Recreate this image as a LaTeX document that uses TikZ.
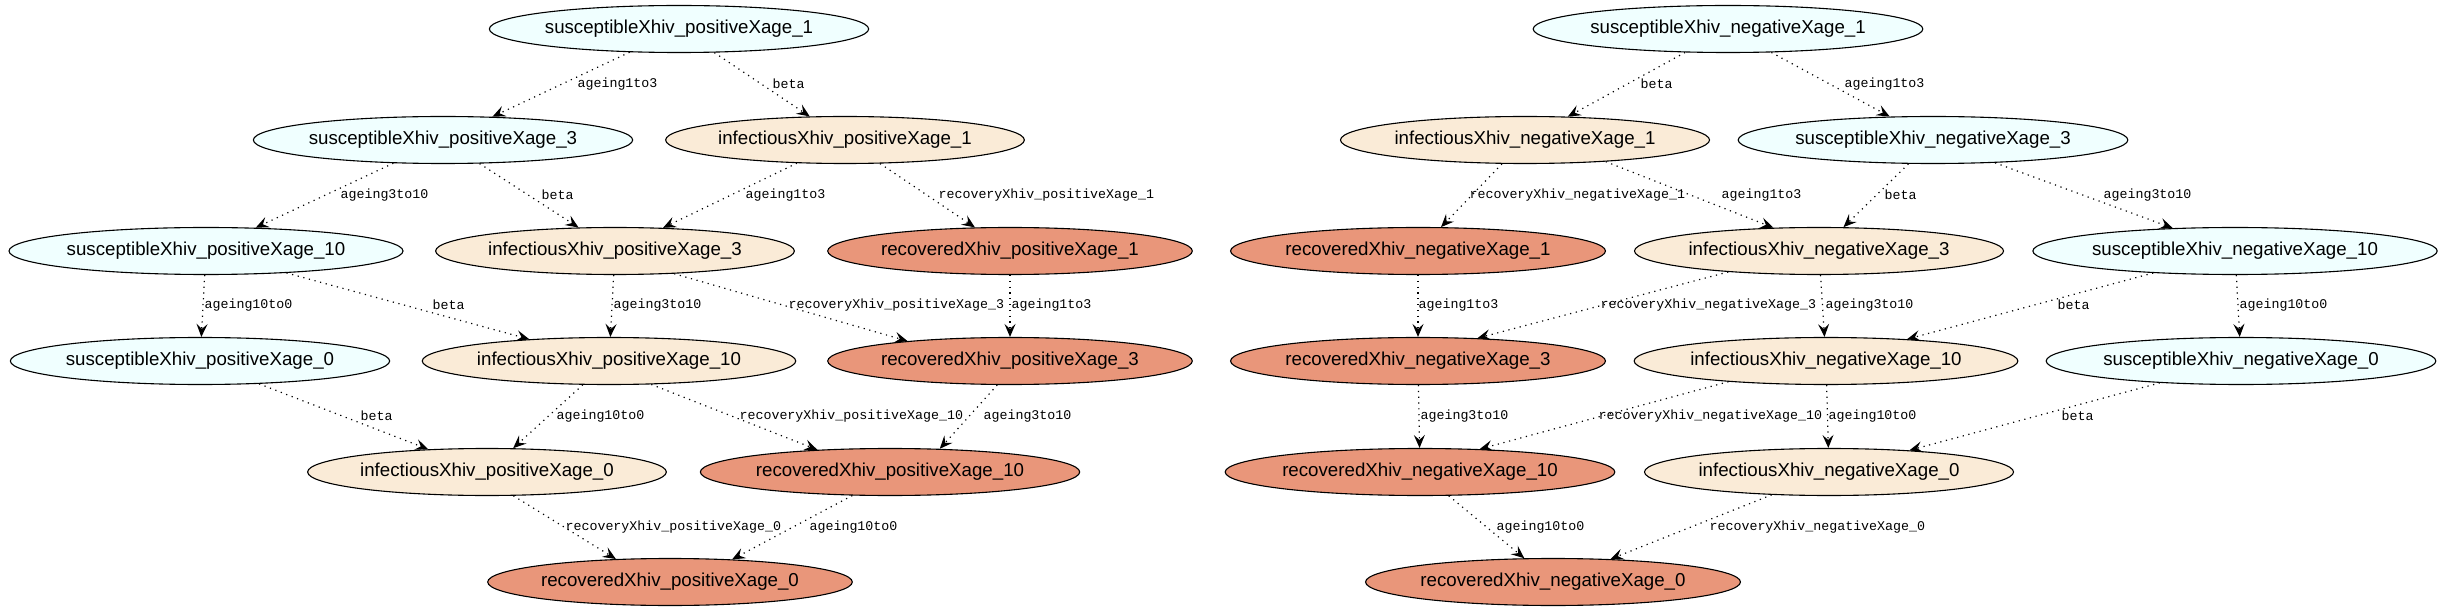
\documentclass[tikz,border=0pt]{standalone}
\usepackage{fontspec}
\setmainfont{Liberation Sans}
\newfontfamily\edgefont{Liberation Mono}
\usepackage{tikz}
\usetikzlibrary{shapes.geometric, arrows.meta}
\definecolor{susfill}{HTML}{F0FFFF}
\definecolor{inffill}{HTML}{FAEBD7}
\definecolor{recfill}{HTML}{E9967A}

\begin{document}
\begin{tikzpicture}[x=1pt, y=-1pt,
  compart/.style={ellipse, draw=black, line width=1.1pt, inner xsep=0pt, inner ysep=2pt, minimum height=47pt, font=\fontsize{18.7}{22}\selectfont},
  susbox/.style={compart, fill=susfill},
  infbox/.style={compart, fill=inffill},
  recbox/.style={compart, fill=recfill},
  flow/.style={-{Stealth[length=13pt, width=11pt, inset=5pt]}, line width=1.2pt, dash pattern=on 1.2pt off 4.6pt},
  elabel/.style={anchor=west, inner sep=0pt, font=\edgefont\fontsize{13.3}{15}\selectfont}
]
\useasboundingbox (0,0) rectangle (2447,612);

% HIV positive compartments
\node[susbox] (spos1) at (679,29) {susceptibleXhiv\_positiveXage\_1};
\node[susbox] (spos3) at (443,140) {susceptibleXhiv\_positiveXage\_3};
\node[infbox] (ipos1) at (845,140) {infectiousXhiv\_positiveXage\_1};
\node[susbox] (spos10) at (206,251) {susceptibleXhiv\_positiveXage\_10};
\node[infbox] (ipos3) at (615,251) {infectiousXhiv\_positiveXage\_3};
\node[recbox] (rpos1) at (1010,251) {recoveredXhiv\_positiveXage\_1};
\node[susbox] (spos0) at (200,361) {susceptibleXhiv\_positiveXage\_0};
\node[infbox] (ipos10) at (609,361) {infectiousXhiv\_positiveXage\_10};
\node[recbox] (rpos3) at (1010,361) {recoveredXhiv\_positiveXage\_3};
\node[infbox] (ipos0) at (487,472) {infectiousXhiv\_positiveXage\_0};
\node[recbox] (rpos10) at (890,472) {recoveredXhiv\_positiveXage\_10};
\node[recbox] (rpos0) at (670,582) {recoveredXhiv\_positiveXage\_0};

% HIV negative compartments
\node[susbox] (sneg1) at (1728,29) {susceptibleXhiv\_negativeXage\_1};
\node[infbox] (ineg1) at (1525,140) {infectiousXhiv\_negativeXage\_1};
\node[susbox] (sneg3) at (1933,140) {susceptibleXhiv\_negativeXage\_3};
\node[recbox] (rneg1) at (1418,251) {recoveredXhiv\_negativeXage\_1};
\node[infbox] (ineg3) at (1819,251) {infectiousXhiv\_negativeXage\_3};
\node[susbox] (sneg10) at (2235,251) {susceptibleXhiv\_negativeXage\_10};
\node[recbox] (rneg3) at (1418,361) {recoveredXhiv\_negativeXage\_3};
\node[infbox] (ineg10) at (1826,361) {infectiousXhiv\_negativeXage\_10};
\node[susbox] (sneg0) at (2241,361) {susceptibleXhiv\_negativeXage\_0};
\node[recbox] (rneg10) at (1420,472) {recoveredXhiv\_negativeXage\_10};
\node[infbox] (ineg0) at (1829,472) {infectiousXhiv\_negativeXage\_0};
\node[recbox] (rneg0) at (1553,582) {recoveredXhiv\_negativeXage\_0};

% flows, positive side
\draw[flow] (spos1) -- (spos3) node[elabel] at (577,84) {ageing1to3};
\draw[flow] (spos1) -- (ipos1) node[elabel] at (772,84) {beta};
\draw[flow] (spos3) -- (spos10) node[elabel] at (340,195) {ageing3to10};
\draw[flow] (spos3) -- (ipos3) node[elabel] at (541,195) {beta};
\draw[flow] (ipos1) -- (ipos3) node[elabel] at (745,195) {ageing1to3};
\draw[flow] (ipos1) -- (rpos1) node[elabel] at (938,195) {recoveryXhiv\_positiveXage\_1};
\draw[flow] (spos10) -- (spos0) node[elabel] at (204,305) {ageing10to0};
\draw[flow] (spos10) -- (ipos10) node[elabel] at (432,305) {beta};
\draw[flow] (ipos3) -- (ipos10) node[elabel] at (613,305) {ageing3to10};
\draw[flow] (ipos3.-21) -- (rpos3.169) node[elabel] at (788,305) {recoveryXhiv\_positiveXage\_3};
\draw[flow] (rpos1) -- (rpos3) node[elabel] at (1011,305) {ageing1to3};
\draw[flow] (spos0) -- (ipos0) node[elabel] at (360,416) {beta};
\draw[flow] (ipos10) -- (ipos0) node[elabel] at (556,416) {ageing10to0};
\draw[flow] (ipos10.-29) -- (rpos10.163) node[elabel] at (739,416) {recoveryXhiv\_positiveXage\_10};
\draw[flow] (rpos3.-118) -- (rpos10.25) node[elabel] at (983,416) {ageing3to10};
\draw[flow] (ipos0.-42) -- (rpos0.157) node[elabel] at (565,527) {recoveryXhiv\_positiveXage\_0};
\draw[flow] (rpos10.-148) -- (rpos0.20) node[elabel] at (809,527) {ageing10to0};

% flows, negative side
\draw[flow] (sneg1) -- (ineg1) node[elabel] at (1640,84) {beta};
\draw[flow] (sneg1) -- (sneg3) node[elabel] at (1844,84) {ageing1to3};
\draw[flow] (ineg1) -- (rneg1) node[elabel] at (1469,195) {recoveryXhiv\_negativeXage\_1};
\draw[flow] (ineg1.-15) -- (ineg3.153) node[elabel] at (1721,195) {ageing1to3};
\draw[flow] (sneg3) -- (ineg3) node[elabel] at (1884,195) {beta};
\draw[flow] (sneg3) -- (sneg10) node[elabel] at (2103,195) {ageing3to10};
\draw[flow] (rneg1) -- (rneg3) node[elabel] at (1418,305) {ageing1to3};
\draw[flow] (ineg3.-167) -- (rneg3.21) node[elabel] at (1600,305) {recoveryXhiv\_negativeXage\_3};
\draw[flow] (ineg3) -- (ineg10) node[elabel] at (1825,305) {ageing3to10};
\draw[flow] (sneg10) -- (ineg10) node[elabel] at (2057,305) {beta};
\draw[flow] (sneg10) -- (sneg0) node[elabel] at (2239,305) {ageing10to0};
\draw[flow] (rneg3) -- (rneg10) node[elabel] at (1420,416) {ageing3to10};
\draw[flow] (ineg10.-168) -- (rneg10.21) node[elabel] at (1598,416) {recoveryXhiv\_negativeXage\_10};
\draw[flow] (ineg10) -- (ineg0) node[elabel] at (1828,416) {ageing10to0};
\draw[flow] (sneg0) -- (ineg0) node[elabel] at (2061,416) {beta};
\draw[flow] (rneg10) -- (rneg0) node[elabel] at (1496,527) {ageing10to0};
\draw[flow] (ineg0) -- (rneg0) node[elabel] at (1709,527) {recoveryXhiv\_negativeXage\_0};

\end{tikzpicture}
\end{document}
